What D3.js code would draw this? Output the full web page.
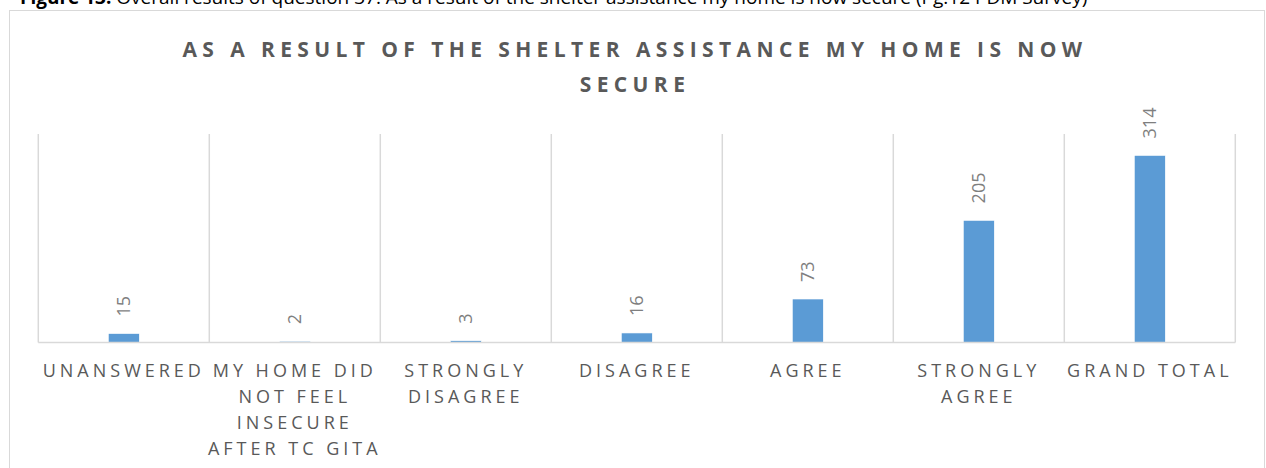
<!DOCTYPE html>
<html lang="en">
<head>
    <meta charset="utf-8">
    <title>Shelter assistance</title>
    <script src="https://d3js.org/d3.v7.min.js"></script>
    <style>
        html, body {
            margin: 0;
            padding: 0;
            background: #fff;
        }
        text {
            font-family: "Open Sans", "Liberation Sans", sans-serif;
        }
    </style>
</head>
<body>
<script type="text/javascript">

    // data
    var categories = [
        ["UNANSWERED"],
        ["MY HOME DID", "NOT FEEL", "INSECURE", "AFTER TC GITA"],
        ["STRONGLY", "DISAGREE"],
        ["DISAGREE"],
        ["AGREE"],
        ["STRONGLY", "AGREE"],
        ["GRAND TOTAL"]
    ];
    var values = [15, 2, 3, 16, 73, 205, 314];
    var titleLines = ["AS A RESULT OF THE SHELTER ASSISTANCE MY HOME IS NOW", "SECURE"];

    var w = 1266, h = 468;
    var plotLeft = 38.3, plotRight = 1235.3, plotTop = 134, baseline = 342.5;

    var svg = d3.select("body").append("svg")
        .attr("width", w)
        .attr("height", h);

    // caption (cut off at top like the source)
    var cap = svg.append("text")
        .attr("x", 20)
        .attr("y", 4)
        .attr("font-size", 19)
        .attr("fill", "#000");
    cap.append("tspan").attr("font-weight", "bold").text("Figure 13:");
    cap.append("tspan").text(" Overall results of question 37: As a result of the shelter assistance my home is now secure (Pg.12 PDM Survey)");

    // chart frame
    svg.append("rect")
        .attr("x", 9.5)
        .attr("y", 10.5)
        .attr("width", 1255)
        .attr("height", 480)
        .attr("fill", "#fff")
        .attr("stroke", "#d9d9d9");

    // title
    svg.selectAll(".title")
        .data(titleLines)
        .enter().append("text")
        .attr("class", "title")
        .attr("x", 635)
        .attr("y", function(d, i) { return 57 + i * 35; })
        .attr("text-anchor", "middle")
        .attr("font-size", 21)
        .attr("font-weight", "bold")
        .attr("letter-spacing", 5.4)
        .attr("fill", "#595959")
        .text(function(d) { return d; });

    var xScale = d3.scaleBand()
        .domain(d3.range(values.length))
        .range([plotLeft, plotRight])
        .paddingInner(0)
        .paddingOuter(0);

    var yScale = d3.scaleLinear()
        .domain([0, 350])
        .range([baseline, plotTop]);

    // vertical gridlines between categories
    var bounds = d3.range(values.length + 1).map(function(i) {
        return plotLeft + i * xScale.bandwidth();
    });
    svg.selectAll(".grid")
        .data(bounds)
        .enter().append("line")
        .attr("class", "grid")
        .attr("x1", function(d) { return d; })
        .attr("x2", function(d) { return d; })
        .attr("y1", yScale(350))
        .attr("y2", baseline)
        .attr("stroke", "#d9d9d9")
        .attr("stroke-width", 1.5);

    // bars
    var barW = 31;
    svg.selectAll(".bar")
        .data(values)
        .enter().append("rect")
        .attr("class", "bar")
        .attr("x", function(d, i) { return xScale(i) + xScale.bandwidth() / 2 - barW / 2; })
        .attr("y", function(d) { return yScale(d); })
        .attr("width", barW)
        .attr("height", function(d) { return baseline - yScale(d); })
        .attr("fill", "#5b9bd5")
        .attr("stroke", "#fff")
        .attr("stroke-width", 0.6);

    // baseline
    svg.append("line")
        .attr("x1", plotLeft)
        .attr("x2", plotRight)
        .attr("y1", baseline)
        .attr("y2", baseline)
        .attr("stroke", "#d9d9d9")
        .attr("stroke-width", 1.5);

    // value labels, rotated
    svg.selectAll(".val")
        .data(values)
        .enter().append("text")
        .attr("class", "val")
        .attr("transform", function(d, i) {
            var cx = xScale(i) + xScale.bandwidth() / 2;
            return "translate(" + (cx + 6.5) + "," + (yScale(d) - 17) + ") rotate(-90)";
        })
        .attr("font-size", 18)
        .attr("fill", "#7f7f7f")
        .text(function(d) { return d; });

    // category labels
    var catG = svg.selectAll(".cat")
        .data(categories)
        .enter().append("text")
        .attr("class", "cat")
        .attr("text-anchor", "middle")
        .attr("font-size", 18)
        .attr("letter-spacing", 4)
        .attr("fill", "#595959");
    catG.selectAll("tspan")
        .data(function(d, i) { return d.map(function(s) { return { s: s, i: i }; }); })
        .enter().append("tspan")
        .attr("x", function(d) { return xScale(d.i) + xScale.bandwidth() / 2; })
        .attr("y", function(d, j) { return 377 + j * 26; })
        .text(function(d) { return d.s; });

</script>
</body>
</html>
